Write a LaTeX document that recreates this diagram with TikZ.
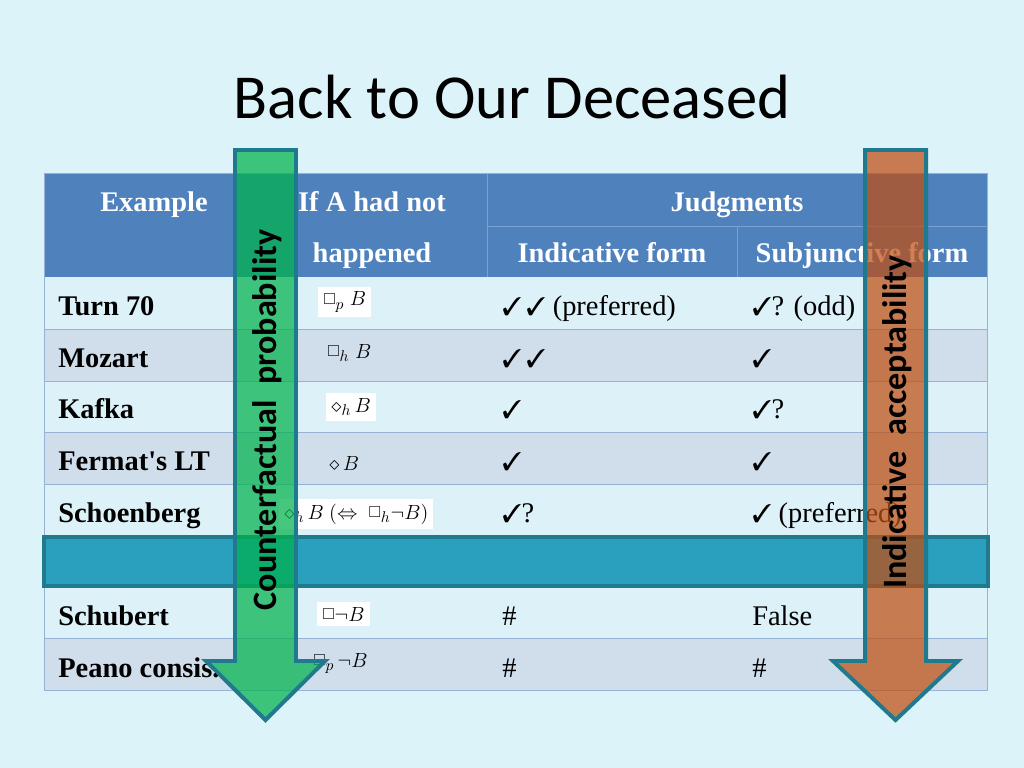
\documentclass[tikz,border=0pt]{standalone}
\usepackage{fontspec}
\usepackage{amssymb}
\usepackage{pifont}
\setmainfont{Liberation Serif}
\newfontfamily\slidefont{Carlito}
\usetikzlibrary{positioning}

\definecolor{slidebg}{RGB}{221,243,250}
\definecolor{headblue}{RGB}{79,129,189}
\definecolor{headline}{RGB}{122,160,206}
\definecolor{rowlight}{RGB}{220,241,248}
\definecolor{rowdark}{RGB}{208,222,236}
\definecolor{gridline}{RGB}{150,178,212}
\definecolor{bandteal}{RGB}{42,160,190}
\definecolor{edgeteal}{RGB}{30,122,140}
\definecolor{arrowgreen}{RGB}{0,178,75}
\definecolor{arroworange}{RGB}{192,78,17}

\newcommand{\chk}{{\fontsize{18}{22}\selectfont\ding{51}}}
\newcommand{\nec}{\mathord{\raisebox{0.15ex}{\scalebox{0.75}{$\Box$}}}}

\tikzset{
  headtext/.style={anchor=base,text=white,font=\fontsize{20}{24}\selectfont\bfseries},
  nametext/.style={anchor=base west,inner sep=0pt,font=\fontsize{20}{24}\selectfont\bfseries},
  judgetext/.style={anchor=base west,inner sep=0pt,font=\fontsize{20}{24}\selectfont},
  formula/.style={anchor=base west,inner xsep=3.5pt,inner ysep=3.5pt,font=\fontsize{15}{18}\selectfont},
  pasted/.style={formula,fill=white},
  bigarrow/.style={draw=edgeteal,line width=2.8pt,fill opacity=0.72,line join=miter},
  arrowlabel/.style={rotate=90,inner sep=0pt,font=\slidefont\fontsize{24}{28}\selectfont\bfseries}
}

\begin{document}
\begin{tikzpicture}[x=0.703125pt,y=-0.703125pt]

    % slide
    \fill[slidebg] (0,0) rectangle (1024,768);
    \useasboundingbox (0,0) rectangle (1024,768);
    \node[font=\slidefont\fontsize{44}{50}\selectfont] (title) at (512,97) {Back to Our Deceased};

    % table body
    \fill[headblue] (44,173) rectangle (987,277);
    \foreach \ya/\yb/\rowcol in {277/329/rowlight, 329/381/rowdark, 381/432/rowlight,
        432/484/rowdark, 484/536/rowlight, 586/638/rowlight, 638/690/rowdark}
        \fill[\rowcol] (44,\ya) rectangle (987,\yb);
    \foreach \y in {329,381,432,484,536,586,638}
        \draw[gridline,line width=0.7pt] (44,\y) -- (987,\y);
    \draw[headline,line width=0.7pt] (487,226) -- (987,226) (737,226) -- (737,277)
        (487,173) -- (487,277);
    \draw[gridline,line width=0.7pt] (44,173) rectangle (987,690);

    % header
    \node[headtext] (hex) at (154,212) {Example};
    \node[headtext] (hif) at (372,212) {If A had not};
    \node[headtext] (hhap) at (372,263) {happened};
    \node[headtext] (hjud) at (737,212) {Judgments};
    \node[headtext] (hind) at (612,263) {Indicative form};
    \node[headtext] (hsub) at (862,263) {Subjunctive form};

    % examples
    \node[nametext] (turn) at (58,316) {Turn 70};
    \node[nametext] (moz) at (58,367) {Mozart};
    \node[nametext] (kaf) at (58,418) {Kafka};
    \node[nametext] (fer) at (58,470) {Fermat\textquotesingle s LT};
    \node[nametext] (sch) at (58,522) {Schoenberg};
    \node[nametext] (schu) at (58,625) {Schubert};
    \node[nametext] (pea) at (58,677) {Peano consis.};

    % counterfactuals
    \node[pasted] (fturn) at (318,306) {$\nec_p\; B$};
    \node[formula] (fmoz) at (322,358) {$\nec_h\; B$};
    \node[pasted] (fkaf) at (326,412) {$\diamond_h\, B$};
    \node[formula] (ffer) at (324,470) {$\diamond\, B$};
    \node[pasted] (fsch) at (279,519) {$\diamond_h\, B\ (\Leftrightarrow\ \nec_h\neg B)$};
    \node[pasted] (fschu) at (317,621) {$\nec\neg B$};
    \node[formula] (fpea) at (308,667) {$\nec_p\,\neg B$};

    % indicative
    \node[judgetext] (iturn) at (502,316) {\chk\,\chk\ (preferred)};
    \node[judgetext] (imoz) at (502,367) {\chk\,\chk};
    \node[judgetext] (ikaf) at (502,418) {\chk};
    \node[judgetext] (ifer) at (502,470) {\chk};
    \node[judgetext] (isch) at (502,522) {\chk?};
    \node[judgetext] (ischu) at (502,625) {\#};
    \node[judgetext] (ipea) at (502,677) {\#};

    % subjunctive
    \node[judgetext] (sturn) at (752,316) {\chk? (odd)};
    \node[judgetext] (smoz) at (752,367) {\chk};
    \node[judgetext] (skaf) at (752,418) {\chk?};
    \node[judgetext] (sfer) at (752,470) {\chk};
    \node[judgetext] (ssch) at (752,522) {\chk\ (preferred)};
    \node[judgetext] (sschu) at (752,625) {False};
    \node[judgetext] (spea) at (752,677) {\#};

    % separating band
    \draw[fill=bandteal,draw=edgeteal,line width=2.2pt] (44,537) rectangle (988,586);

    % the two arrows
    \draw[bigarrow,fill=arrowgreen] (235,150) -- (296,150) -- (296,661) -- (325,661)
        -- (265.5,720) -- (206,661) -- (235,661) -- cycle;
    \draw[bigarrow,fill=arroworange] (865,150) -- (926,150) -- (926,661) -- (958,661)
        -- (895.5,720) -- (833,661) -- (865,661) -- cycle;
    \node[arrowlabel] (cfp) at (267,420) {Counterfactual~~probability};
    \node[arrowlabel] (ina) at (897,422) {Indicative~~acceptability};

\end{tikzpicture}
\end{document}
